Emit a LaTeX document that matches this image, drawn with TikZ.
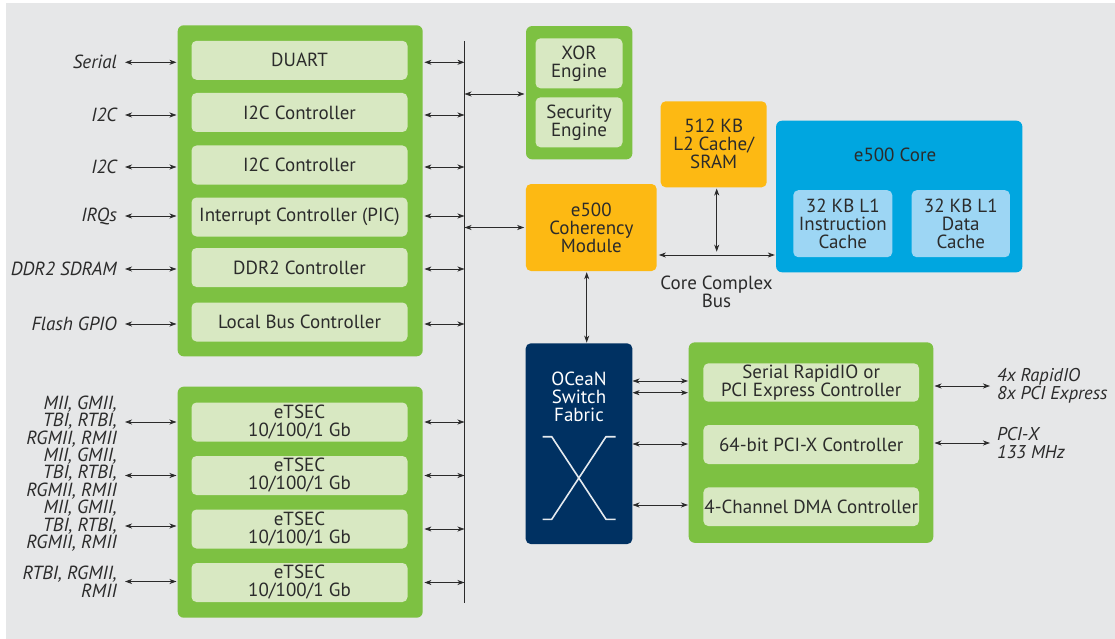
\documentclass[tikz,border=0pt]{standalone}
\usepackage{fontspec}
\setmainfont{PT Sans}
\usepackage{xcolor}
\usepackage{tikz}
\usetikzlibrary{positioning, arrows.meta, calc}

\definecolor{bgray}{HTML}{E6E7E8}
\definecolor{grn}{HTML}{7DC142}
\definecolor{grnlt}{HTML}{D8E8C2}
\definecolor{amber}{HTML}{FDB913}
\definecolor{cyan}{HTML}{00A6E0}
\definecolor{cyanlt}{HTML}{9DD6F4}
\definecolor{navy}{HTML}{003162}
\definecolor{ink}{HTML}{2B2B2B}

\begin{document}
\begin{tikzpicture}[x=1pt, y=-1pt,
  font=\fontsize{19}{18}\selectfont,
  grp/.style={fill=grn, rounded corners=6pt, inner sep=0pt},
  blk/.style={fill=grnlt, rounded corners=5pt, minimum width=216pt, minimum height=39pt, align=center, text=ink, inner sep=0pt},
  sblk/.style={fill=grnlt, rounded corners=5pt, minimum width=87pt, minimum height=50pt, align=center, text=ink, inner sep=0pt},
  hot/.style={fill=amber, rounded corners=5pt, align=center, text=ink, inner sep=0pt},
  l1/.style={fill=cyanlt, rounded corners=5pt, minimum width=99pt, minimum height=67pt, align=center, text=ink, inner sep=0pt},
  lbl/.style={font=\fontsize{19}{17.5}\selectfont\itshape, align=right, anchor=east, text=ink, inner sep=2pt},
  rlbl/.style={font=\fontsize{18.5}{18.5}\selectfont\itshape, align=left, anchor=west, text=ink, inner sep=2pt},
  link/.style={<->, line width=0.8pt, draw=ink, >={Stealth[length=7pt, width=5pt, inset=2pt]}},
  xwire/.style={draw=white!90!navy, line width=1.6pt}
]
  \useasboundingbox (0,0) rectangle (1115,639);
  \fill[white] (0,0) rectangle (1115,639);
  \fill[bgray] (6,3) rectangle (1115,639);

  \node[grp, minimum width=245pt, minimum height=331pt] (periph) at (300.2,190.8) {};
  \node[blk] (duart) at (299.5,60.3) {DUART};
  \node[blk] (iicA) at (299.5,112.5) {I2C Controller};
  \node[blk] (iicB) at (299.5,165) {I2C Controller};
  \node[blk] (pic) at (299.5,217) {Interrupt Controller (PIC)};
  \node[blk] (ddr) at (299.5,267.5) {DDR2 Controller};
  \node[blk] (lbc) at (299.5,322) {Local Bus Controller};

  \node[grp, minimum width=245pt, minimum height=231pt] (enet) at (300.2,502.2) {};
  \node[blk] (tsecA) at (299.5,422) {eTSEC\\10/100/1 Gb};
  \node[blk] (tsecB) at (299.5,475.5) {eTSEC\\10/100/1 Gb};
  \node[blk] (tsecC) at (299.5,529) {eTSEC\\10/100/1 Gb};
  \node[blk] (tsecD) at (299.5,582.5) {eTSEC\\10/100/1 Gb};

  \node[lbl] (serialL) at (119,62.3) {Serial};
  \node[lbl] (iicAL) at (119,115) {I2C};
  \node[lbl] (iicBL) at (119,167) {I2C};
  \node[lbl] (irqL) at (119,216) {IRQs};
  \node[lbl] (ddrL) at (119,269) {DDR2 SDRAM};
  \node[lbl] (gpioL) at (119,324) {Flash GPIO};
  \node[lbl] (miiA) at (119,421.5) {MII, GMII,\\TBI, RTBI,\\RGMII, RMII};
  \node[lbl] (miiB) at (119,473.5) {MII, GMII,\\TBI, RTBI,\\RGMII, RMII};
  \node[lbl] (miiC) at (119,526) {MII, GMII,\\TBI, RTBI,\\RGMII, RMII};
  \node[lbl] (miiD) at (119,581.5) {RTBI, RGMII,\\RMII};

  \coordinate (busT) at (464.5,41);
  \coordinate (busB) at (464.5,603.3);
  \draw[line width=1pt, ink] (busT) -- (busB);

  \foreach \lb in {serialL, iicAL, iicBL, irqL, ddrL, gpioL}{
    \draw[link, shorten <=6pt, shorten >=1pt] (\lb) -- (\lb -| periph.west);
    \draw[link, shorten <=1.5pt] (\lb -| periph.east) -- (\lb -| busT);
  }
  \draw[link, shorten <=6pt, shorten >=1pt] (miiA.east |- tsecA) -- (tsecA -| enet.west);
  \draw[link, shorten <=6pt, shorten >=1pt] (miiB.east |- tsecB) -- (tsecB -| enet.west);
  \draw[link, shorten <=6pt, shorten >=1pt] (miiC) -- (miiC -| enet.west);
  \draw[link, shorten <=6pt, shorten >=1pt] (miiD) -- (miiD -| enet.west);
  \foreach \bx in {tsecA, tsecB, tsecC, tsecD}
    \draw[link, shorten <=1.5pt] (\bx -| enet.east) -- (\bx -| busT);

  \node[grp, minimum width=106.3pt, minimum height=133.3pt] (accel) at (579.2,92.7) {};
  \node[sblk] (xor) at (579,63.3) {XOR\\Engine};
  \node[sblk] (sec) at (579,122.3) {Security\\Engine};
  \coordinate (accelIn) at (526,94);
  \draw[link, shorten >=1.5pt] (busT |- accelIn) -- (accelIn);

  \node[hot, minimum width=130.7pt, minimum height=87pt] (ccm) at (591.3,227.5) {e500\\Coherency\\Module};
  \draw[link, shorten >=1.5pt] (busT |- ccm) -- (ccm.west);

  \node[hot, minimum width=106pt, minimum height=86pt] (l2) at (713.7,144.3) {512 KB\\L2 Cache/\\SRAM};

  \node[fill=cyan, rounded corners=6pt, minimum width=246.3pt, minimum height=151.6pt, inner sep=0pt] (core) at (899.2,196.5) {};
  \node[text=ink] (coreT) at (895,155) {e500 Core};
  \node[l1] (l1i) at (842.8,223.7) {32 KB L1\\Instruction\\Cache};
  \node[l1, minimum width=98.3pt] (l1d) at (960.8,223.7) {32 KB L1\\Data\\Cache};

  \coordinate (ccb) at (716.7,255);
  \draw[link, shorten <=2pt, shorten >=1pt] (ccm.east |- ccb) -- (core.west |- ccb);
  \draw[link, shorten <=1pt, shorten >=3.3pt] (l2.south -| ccb) -- (ccb);
  \node[text=ink, align=center] (ccbL) at (716.5,292) {Core Complex\\Bus};

  \node[fill=navy, rounded corners=5pt, minimum width=106.6pt, minimum height=200.7pt, inner sep=0pt] (ocean) at (579,443.7) {};
  \node[text=white, align=center] (oceanT) at (579,396.5) {OCeaN\\Switch\\Fabric};
  \draw[xwire] (542.7,436.7) -- (551.7,436.7) -- (606,519.3) -- (615.7,519.3);
  \draw[xwire] (542.7,519.3) -- (551.7,519.3) -- (606,436.7) -- (615.7,436.7);

  \coordinate (vx) at (586.7,0);
  \draw[link, shorten <=1pt, shorten >=0.5pt] (ccm.south -| vx) -- (ocean.north -| vx);

  \node[grp, minimum width=244.6pt, minimum height=200.4pt] (hsio) at (811,442.6) {};
  \node[blk, minimum width=215.6pt, minimum height=38.4pt] (srio) at (811.2,382.5) {Serial RapidIO or\\PCI Express Controller};
  \node[blk, minimum width=215.6pt] (pcix) at (811.2,444.5) {64-bit PCI-X Controller};
  \node[blk, minimum width=215.6pt, minimum height=38.7pt] (dma) at (811.2,506.7) {4-Channel DMA Controller};

  \coordinate (swA) at (689,381);
  \coordinate (swB) at (689,392.7);
  \coordinate (swC) at (689,444);
  \coordinate (swD) at (689,505);
  \foreach \p in {swA, swB, swC, swD}
    \draw[link, shorten >=1pt] (ocean.east |- \p) -- (\p);

  \node[rlbl] (rioL) at (995,386) {4x RapidIO\\8x PCI Express};
  \node[rlbl] (pcixL) at (995,443) {PCI-X\\133 MHz};
  \draw[link, shorten <=1pt, shorten >=5pt] (hsio.east |- rioL) -- (rioL.west);
  \draw[link, shorten <=1pt, shorten >=5pt] (hsio.east |- pcixL) -- (pcixL.west);
\end{tikzpicture}
\end{document}
